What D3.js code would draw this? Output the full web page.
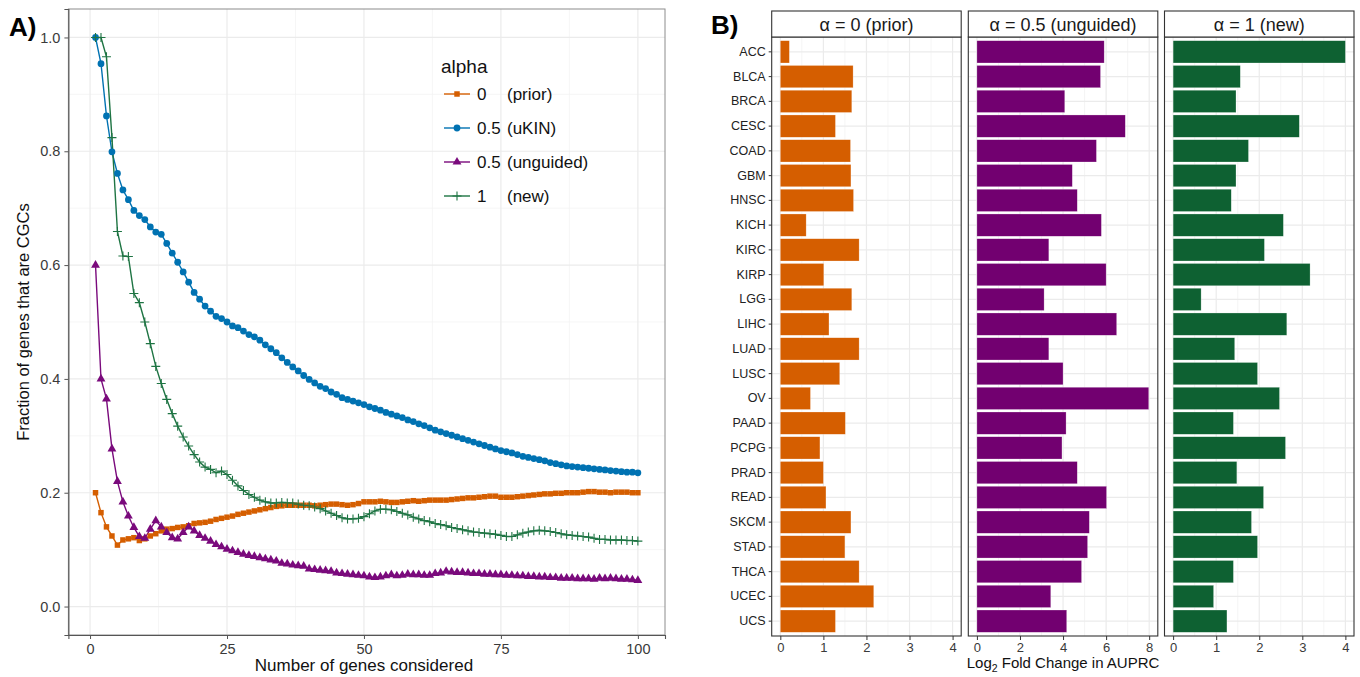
<!DOCTYPE html>
<html>
<head>
<meta charset="utf-8">
<script src="https://cdn.jsdelivr.net/npm/d3@7"></script>
<style>
  body { margin: 0; background: #fff; }
  svg { font-family: "Liberation Sans", Arial, sans-serif; }
</style>
</head>
<body>
<div id="chart"></div>
<script>
// ---- panel A data: fraction of top-k genes that are CGCs ----
const genesConsidered = d3.range(1, 101);

const priorFrac = [
  0.200, 0.165, 0.140, 0.124, 0.108, 0.117, 0.119, 0.121, 0.116, 0.119,
  0.124, 0.128, 0.133, 0.136, 0.137, 0.139, 0.140, 0.142, 0.146, 0.147,
  0.148, 0.150, 0.153, 0.155, 0.157, 0.159, 0.162, 0.164, 0.166, 0.168,
  0.170, 0.172, 0.174, 0.176, 0.177, 0.178, 0.178, 0.178, 0.178, 0.178,
  0.177, 0.178, 0.179, 0.180, 0.180, 0.179, 0.178, 0.179, 0.181, 0.184,
  0.184, 0.184, 0.185, 0.184, 0.183, 0.183, 0.184, 0.185, 0.186, 0.185,
  0.186, 0.187, 0.187, 0.187, 0.187, 0.188, 0.189, 0.190, 0.191, 0.191,
  0.192, 0.193, 0.194, 0.194, 0.192, 0.192, 0.192, 0.193, 0.194, 0.195,
  0.196, 0.197, 0.198, 0.198, 0.199, 0.199, 0.200, 0.200, 0.200, 0.201,
  0.202, 0.202, 0.201, 0.201, 0.200, 0.201, 0.201, 0.201, 0.200, 0.200
];

const ukinFrac = [
  1.000, 0.954, 0.862, 0.799, 0.761, 0.732, 0.715, 0.696, 0.687, 0.680,
  0.667, 0.658, 0.654, 0.638, 0.621, 0.605, 0.588, 0.570, 0.552, 0.540,
  0.528, 0.519, 0.510, 0.506, 0.500, 0.493, 0.490, 0.484, 0.478, 0.474,
  0.468, 0.460, 0.453, 0.446, 0.437, 0.429, 0.421, 0.414, 0.406, 0.399,
  0.393, 0.387, 0.383, 0.377, 0.373, 0.367, 0.364, 0.361, 0.358, 0.355,
  0.351, 0.348, 0.345, 0.341, 0.338, 0.335, 0.332, 0.328, 0.325, 0.321,
  0.318, 0.314, 0.310, 0.307, 0.304, 0.301, 0.298, 0.295, 0.292, 0.289,
  0.286, 0.283, 0.280, 0.277, 0.274, 0.272, 0.270, 0.267, 0.264, 0.262,
  0.260, 0.258, 0.256, 0.253, 0.251, 0.249, 0.247, 0.246, 0.245, 0.244,
  0.243, 0.242, 0.241, 0.240, 0.239, 0.238, 0.237, 0.236, 0.236, 0.235
];

const unguidedFrac = [
  0.600, 0.400, 0.365, 0.277, 0.220, 0.184, 0.159, 0.139, 0.123, 0.120,
  0.136, 0.151, 0.140, 0.130, 0.121, 0.119, 0.130, 0.140, 0.133, 0.125,
  0.120, 0.115, 0.109, 0.105, 0.101, 0.098, 0.095, 0.092, 0.090, 0.088,
  0.086, 0.084, 0.082, 0.080, 0.076, 0.075, 0.073, 0.072, 0.071, 0.066,
  0.065, 0.064, 0.063, 0.062, 0.059, 0.058, 0.057, 0.056, 0.055, 0.054,
  0.052, 0.051, 0.052, 0.054, 0.056, 0.054, 0.055, 0.057, 0.056, 0.056,
  0.055, 0.055, 0.058, 0.059, 0.062, 0.061, 0.060, 0.060, 0.059, 0.058,
  0.058, 0.057, 0.057, 0.056, 0.056, 0.055, 0.055, 0.054, 0.054, 0.053,
  0.053, 0.052, 0.052, 0.051, 0.051, 0.050, 0.050, 0.050, 0.049, 0.049,
  0.049, 0.048, 0.050, 0.049, 0.050, 0.049, 0.048, 0.048, 0.047, 0.046
];

const newFrac = [
  1.000, 1.000, 0.966, 0.824, 0.659, 0.616, 0.615, 0.550, 0.534, 0.500,
  0.462, 0.422, 0.392, 0.364, 0.339, 0.317, 0.298, 0.282, 0.267, 0.254,
  0.245, 0.241, 0.235, 0.238, 0.232, 0.222, 0.212, 0.204, 0.197, 0.192,
  0.187, 0.184, 0.182, 0.182, 0.183, 0.182, 0.182, 0.180, 0.178, 0.177,
  0.175, 0.172, 0.168, 0.164, 0.160, 0.156, 0.154, 0.154, 0.155, 0.158,
  0.163, 0.168, 0.171, 0.171, 0.170, 0.167, 0.164, 0.161, 0.157, 0.154,
  0.151, 0.149, 0.146, 0.144, 0.142, 0.139, 0.137, 0.135, 0.133, 0.131,
  0.130, 0.129, 0.128, 0.127, 0.125, 0.123, 0.123, 0.126, 0.129, 0.131,
  0.133, 0.134, 0.133, 0.132, 0.130, 0.128, 0.126, 0.125, 0.124, 0.123,
  0.122, 0.120, 0.118, 0.118, 0.117, 0.117, 0.117, 0.116, 0.116, 0.115
];

const alphaNums = ["0", "0.5", "0.5", "1"];
const alphaTags = ["(prior)", "(uKIN)", "(unguided)", "(new)"];

// ---- panel B data: log2 fold change in AUPRC per cancer type ----
const cancerTypes = ["ACC", "BLCA", "BRCA", "CESC", "COAD", "GBM", "HNSC", "KICH",
  "KIRC", "KIRP", "LGG", "LIHC", "LUAD", "LUSC", "OV", "PAAD", "PCPG", "PRAD",
  "READ", "SKCM", "STAD", "THCA", "UCEC", "UCS"];
const facetTitles = ["α = 0 (prior)", "α = 0.5 (unguided)", "α = 1 (new)"];
const fcPrior = [0.21, 1.69, 1.66, 1.28, 1.63, 1.64, 1.70, 0.60, 1.83, 1.01, 1.66, 1.13,
  1.83, 1.38, 0.70, 1.51, 0.92, 1.00, 1.06, 1.64, 1.50, 1.83, 2.17, 1.28];
const fcUnguided = [5.91, 5.74, 4.08, 6.89, 5.55, 4.43, 4.66, 5.78, 3.34, 6.00, 3.12, 6.49,
  3.34, 4.00, 7.98, 4.14, 3.95, 4.66, 6.02, 5.22, 5.14, 4.86, 3.43, 4.17];
const fcNew = [4.00, 1.56, 1.46, 2.93, 1.75, 1.46, 1.35, 2.56, 2.12, 3.18, 0.65, 2.64,
  1.43, 1.96, 2.47, 1.40, 2.61, 1.48, 2.10, 1.82, 1.96, 1.40, 0.94, 1.25];
const facetMax = [4, 8, 4];
const facetTicks = [[0, 1, 2, 3, 4], [0, 2, 4, 6, 8], [0, 1, 2, 3, 4]];

const W = 1360, H = 677;
const svg = d3.select("#chart").append("svg")
  .attr("width", W).attr("height", H)
  .style("background", "#fff");

const lineColors = ["#d55e00", "#0072b2", "#7a0a7c", "#1e7443"];
const barColors = ["#d55e00", "#720070", "#0e6132"];

// ================= Panel A =================
const pA = { left: 68.4, right: 665, top: 9, bottom: 635 };
const x = d3.scaleLinear().domain([-3.95, 104.95]).range([pA.left, pA.right]);
const y = d3.scaleLinear().domain([-0.05, 1.05]).range([pA.bottom, pA.top]);

const gA = svg.append("g");
// minor grid
gA.selectAll("line.minx").data([12.5, 37.5, 62.5, 87.5]).join("line")
  .attr("x1", d => x(d)).attr("x2", d => x(d)).attr("y1", pA.top).attr("y2", pA.bottom)
  .attr("stroke", "#f2f2f2").attr("stroke-width", 0.7);
gA.selectAll("line.miny").data([0.1, 0.3, 0.5, 0.7, 0.9]).join("line")
  .attr("y1", d => y(d)).attr("y2", d => y(d)).attr("x1", pA.left).attr("x2", pA.right)
  .attr("stroke", "#f2f2f2").attr("stroke-width", 0.7);
// major grid
gA.selectAll("line.majx").data([0, 25, 50, 75, 100]).join("line")
  .attr("x1", d => x(d)).attr("x2", d => x(d)).attr("y1", pA.top).attr("y2", pA.bottom)
  .attr("stroke", "#ebebeb").attr("stroke-width", 1.2);
gA.selectAll("line.majy").data([0, 0.2, 0.4, 0.6, 0.8, 1.0]).join("line")
  .attr("y1", d => y(d)).attr("y2", d => y(d)).attr("x1", pA.left).attr("x2", pA.right)
  .attr("stroke", "#ebebeb").attr("stroke-width", 1.2);

gA.append("rect")
  .attr("x", pA.left).attr("y", pA.top)
  .attr("width", pA.right - pA.left).attr("height", pA.bottom - pA.top)
  .attr("fill", "none").attr("stroke", "#8c8c8c").attr("stroke-width", 1);

// axes
const xAxisA = gA.append("g").attr("transform", `translate(0,${pA.bottom})`)
  .call(d3.axisBottom(x).tickValues([0, 25, 50, 75, 100]).tickSize(4).tickPadding(5));
const yAxisA = gA.append("g").attr("transform", `translate(${pA.left},0)`)
  .call(d3.axisLeft(y).tickValues([0, 0.2, 0.4, 0.6, 0.8, 1.0]).tickFormat(d3.format(".1f")).tickSize(4).tickPadding(4));
[xAxisA, yAxisA].forEach(a => {
  a.select(".domain").attr("stroke", "#555").attr("stroke-width", 1.1);
  a.selectAll(".tick line").attr("stroke", "#555");
  a.selectAll(".tick text").attr("fill", "#3a3a3a").style("font-size", "14.5px");
});

gA.append("text").attr("x", x(50)).attr("y", 671)
  .attr("text-anchor", "middle").style("font-size", "17px").attr("fill", "#111")
  .text("Number of genes considered");
gA.append("text").attr("transform", `translate(29,${y(0.5)}) rotate(-90)`)
  .attr("text-anchor", "middle").style("font-size", "16.5px").attr("fill", "#111")
  .text("Fraction of genes that are CGCs");

const seriesA = [priorFrac, ukinFrac, unguidedFrac, newFrac];
const symbolTypes = [d3.symbolSquare, d3.symbolCircle, d3.symbolTriangle, null];
const symbolSizes = [30, 36, 34, 0];

const line = d3.line().x((d, i) => x(genesConsidered[i])).y(d => y(d));
seriesA.forEach((s, k) => {
  gA.append("path").datum(s).attr("d", line)
    .attr("fill", "none").attr("stroke", lineColors[k]).attr("stroke-width", 1.4);
});

function drawMarker(sel, k) {
  if (symbolTypes[k]) {
    sel.append("path")
      .attr("d", d3.symbol().type(symbolTypes[k]).size(symbolSizes[k]))
      .attr("fill", lineColors[k]);
  } else {
    sel.append("path").attr("d", "M-4.5,0H4.5M0,-4.5V4.5")
      .attr("stroke", lineColors[k]).attr("stroke-width", 1.1).attr("fill", "none");
  }
}
seriesA.forEach((s, k) => {
  const pts = gA.append("g").selectAll("g").data(s).join("g")
    .attr("transform", (d, i) => `translate(${x(genesConsidered[i])},${y(d)})`);
  drawMarker(pts, k);
});

// legend
const leg = gA.append("g");
leg.append("text").attr("x", 441).attr("y", 73).style("font-size", "19px").attr("fill", "#111").text("alpha");
alphaNums.forEach((n, k) => {
  const yy = 94 + k * 34;
  leg.append("line").attr("x1", 444).attr("x2", 470).attr("y1", yy).attr("y2", yy)
    .attr("stroke", lineColors[k]).attr("stroke-width", 1.4);
  const m = leg.append("g").attr("transform", `translate(457,${yy})`);
  drawMarker(m, k);
  leg.append("text").attr("x", 477).attr("y", yy + 6).style("font-size", "17px").attr("fill", "#111").text(n);
  leg.append("text").attr("x", 507).attr("y", yy + 6).style("font-size", "17px").attr("fill", "#111").text(alphaTags[k]);
});

svg.append("text").attr("x", 9).attr("y", 36).style("font-size", "26px").style("font-weight", "bold").text("A)");

// ================= Panel B =================
svg.append("text").attr("x", 711).attr("y", 34).style("font-size", "26px").style("font-weight", "bold").text("B)");

const pB = { top: 37, bottom: 636, stripTop: 11 };
const facetLefts = [771.7, 968.3, 1164.5];
const facetWidth = 189.5;
const yB = d3.scaleBand().domain(cancerTypes).range([pB.top, pB.bottom])
  .paddingInner(0.1).paddingOuter(0.15);
const facetData = [fcPrior, fcUnguided, fcNew];

facetData.forEach((vals, f) => {
  const L = facetLefts[f], R = L + facetWidth;
  const xb = d3.scaleLinear().domain([-0.05 * facetMax[f], facetMax[f] * 1.05]).range([L, R]);
  const g = svg.append("g");
  const minors = facetTicks[f].slice(0, -1).map((t, i) => (t + facetTicks[f][i + 1]) / 2);
  g.selectAll("line.mn").data(minors).join("line")
    .attr("x1", d => xb(d)).attr("x2", d => xb(d)).attr("y1", pB.top).attr("y2", pB.bottom)
    .attr("stroke", "#f2f2f2").attr("stroke-width", 0.8);
  g.selectAll("line.mj").data(facetTicks[f]).join("line")
    .attr("x1", d => xb(d)).attr("x2", d => xb(d)).attr("y1", pB.top).attr("y2", pB.bottom)
    .attr("stroke", "#ebebeb").attr("stroke-width", 1.2);
  g.selectAll("line.hy").data(cancerTypes).join("line")
    .attr("y1", d => yB(d) + yB.bandwidth() / 2).attr("y2", d => yB(d) + yB.bandwidth() / 2)
    .attr("x1", L).attr("x2", R)
    .attr("stroke", "#ebebeb").attr("stroke-width", 1.2);

  g.selectAll("rect.bar").data(vals).join("rect")
    .attr("x", xb(0)).attr("y", (d, i) => yB(cancerTypes[i]))
    .attr("width", d => xb(d) - xb(0)).attr("height", yB.bandwidth())
    .attr("fill", barColors[f]).attr("stroke", "#fff").attr("stroke-opacity", 0.5).attr("stroke-width", 0.5);

  g.append("rect").attr("x", L).attr("y", pB.top).attr("width", facetWidth).attr("height", pB.bottom - pB.top)
    .attr("fill", "none").attr("stroke", "#333").attr("stroke-width", 1.1);
  // strip
  g.append("rect").attr("x", L).attr("y", pB.stripTop).attr("width", facetWidth).attr("height", pB.top - pB.stripTop)
    .attr("fill", "#fff").attr("stroke", "#333").attr("stroke-width", 1.1);
  g.append("text").attr("x", L + facetWidth / 2).attr("y", pB.top - 6.5)
    .attr("text-anchor", "middle").style("font-size", "18px").attr("fill", "#1a1a1a").text(facetTitles[f]);

  const ax = g.append("g").attr("transform", `translate(0,${pB.bottom})`)
    .call(d3.axisBottom(xb).tickValues(facetTicks[f]).tickFormat(d3.format("d")).tickSize(4).tickPadding(3));
  ax.select(".domain").remove();
  ax.selectAll(".tick line").attr("stroke", "#333");
  ax.selectAll(".tick text").attr("fill", "#3a3a3a").style("font-size", "13px");

  if (f === 0) {
    const ay = g.append("g").attr("transform", `translate(${L},0)`)
      .call(d3.axisLeft(yB).tickSize(3).tickPadding(3));
    ay.select(".domain").remove();
    ay.selectAll(".tick line").attr("stroke", "#333");
    ay.selectAll(".tick text").attr("fill", "#222").style("font-size", "12.5px");
  }
});

const titleB = svg.append("text").attr("x", facetLefts[1] + facetWidth / 2).attr("y", 668)
  .attr("text-anchor", "middle").style("font-size", "15px").attr("fill", "#111");
titleB.append("tspan").text("Log");
titleB.append("tspan").attr("dy", 4).style("font-size", "10.5px").text("2");
titleB.append("tspan").attr("dy", -4).text(" Fold Change in AUPRC");
</script>
</body>
</html>
